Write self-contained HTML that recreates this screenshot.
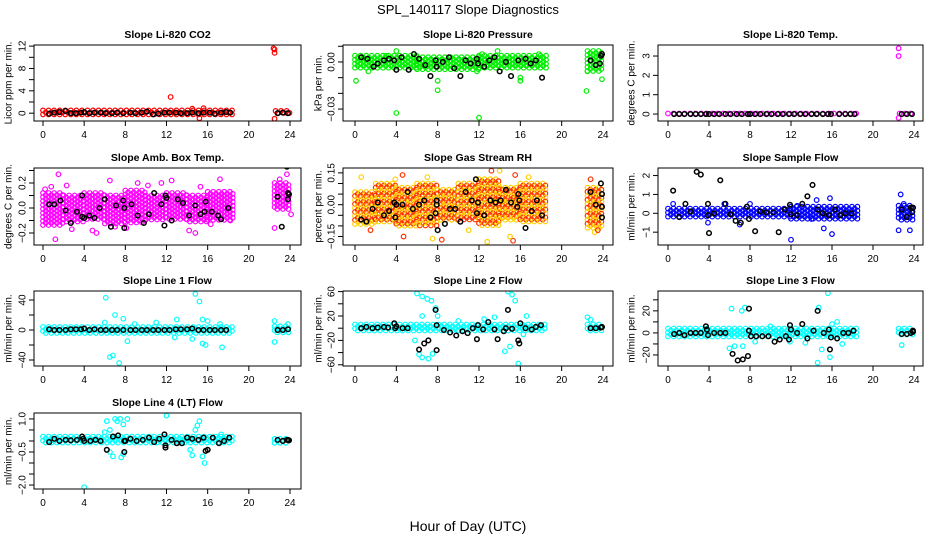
<!DOCTYPE html>
<html><head><meta charset="utf-8"><title>SPL_140117 Slope Diagnostics</title>
<style>body{margin:0;background:#fff}svg{display:block;font-family:"Liberation Sans",Arial,sans-serif}</style>
</head><body>
<svg id="chart" width="936" height="540" viewBox="0 0 936 540" xmlns="http://www.w3.org/2000/svg">
<rect width="936" height="540" fill="#fff"/>
<text x="468" y="14" text-anchor="middle" font-size="13">SPL_140117  Slope Diagnostics</text>
<text x="468" y="531" text-anchor="middle" font-size="14">Hour of Day (UTC)</text>
</svg>
<script>
// ---- data: CO2 ----
const co2BandX0=[0,22.6], co2BandX1=[18.5,24], co2BandLo=[-0.4,-0.3], co2BandHi=[0.5,0.4];
const co2OutX=[22.4,22.5,22.5,12.4,15.2,22.5,15.6,14.5];
const co2OutY=[11.6,11.4,10.8,2.9,-0.9,-1.0,0.9,0.8];
const co2BlkX=[0.6,1.1,1.6,2.2,2.7,3.2,3.7,4.0,4.5,5.0,5.6,6.1,6.7,7.2,7.8,8.5,9.0,9.6,10.1,10.7,11.2,11.8,12.3,12.9,13.4,14.0,14.5,15.1,15.6,16.2,16.7,17.3,17.8,18.2,22.8,23.3,23.8];
const co2BlkY=[-0.1,0.1,0.2,0.4,0,0,0.1,0.2,0,0.1,0.1,0,0,0.1,0,0.1,0,0.1,0.3,-0.2,-0.1,0.1,0.1,0.1,0,0,0.1,0,0.1,0.1,-0.1,0.1,0.2,0.1,0,0.1,0];
// ---- data: Pressure ----
const prsBandX0=[0,6,12,22.5], prsBandX1=[6,12,18.5,24], prsBandLo=[-0.004,-0.005,-0.004,-0.006], prsBandHi=[0.004,0.003,0.004,0.007];
const prsOutX=[0.1,1.3,4.0,4.0,8.0,8.0,12.0,11.8,13.8,16.0,16.0,22.4,22.5,23.9,12.3,3.0,17.8];
const prsOutY=[-0.012,-0.006,-0.0325,0.007,-0.012,-0.018,-0.0355,-0.006,0.007,-0.01,-0.012,-0.0185,-0.006,-0.011,0.005,0.004,0.005];
const prsBlkX=[0.6,1.2,1.8,2.2,2.8,3.3,3.8,4.0,4.5,5.2,5.7,6.2,6.8,7.3,7.8,7.9,8.5,9.1,9.6,10.2,10.7,11.2,11.8,11.9,12.5,13.0,13.5,14.0,14.6,15.1,15.8,16.5,17.0,17.5,18.1,22.8,23.3,23.7,23.9,23.8];
const prsBlkY=[0.003,0.002,-0.003,-0.001,0.001,0.002,0.001,-0.005,0.003,-0.005,0.005,0.002,-0.002,-0.009,0.001,-0.003,0,0.003,-0.004,-0.009,0.001,-0.001,0.002,-0.001,-0.003,0.001,0.003,-0.006,0,-0.009,0.001,0.002,-0.001,0.001,-0.010,0.001,-0.002,-0.001,0.005,0.004];
// ---- data: Li-820 Temp ----
const tmpBandX0=[0,22.6], tmpBandX1=[18.5,24], tmpBandLo=[-0.03,-0.03], tmpBandHi=[0.03,0.03];
const tmpOutX=[22.5,22.5,22.5];
const tmpOutY=[3.4,3.0,-0.2];
const tmpBlkX=[0.6,1.1,1.6,2.2,2.7,3.2,3.7,4.0,4.5,5.0,5.6,6.1,6.7,7.2,7.8,8.0,8.5,9.0,9.6,10.1,10.7,11.2,11.8,12.3,12.9,13.4,14.0,14.5,15.1,15.6,15.9,16.7,17.3,17.8,18.2,22.8,23.3,23.8];
const tmpBlkY=[0,0,0,0,0,0,0,0,0,0,0,0,0,0,0,0,0,0,0,0,0,0,0,0,0,0,0,0,0,0,0,0,0,0,0,0,0,0];
// ---- data: Amb Box Temp ----
const ambBandX0=[0,2,4,6,8,10,12,14,16,22.5], ambBandX1=[2,4,6,8,10,12,14,16,18.5,24];
const ambBandLo=[-0.15,-0.12,-0.1,-0.13,-0.12,-0.1,-0.1,-0.12,-0.1,-0.02];
const ambBandHi=[0.12,0.1,0.12,0.1,0.14,0.1,0.12,0.1,0.13,0.2];
const ambOutX=[1.5,6.5,2.3,1.2,5.2,4.8,0.2,0.8,11.5,14.8,15.3,17.2,9.2,12.5,10.2,22.5,23.7,23.0,24.1,7.0,8.1,2.8,14.2,16.3,18.2];
const ambOutY=[0.27,0.22,0.18,-0.25,-0.2,-0.18,0.15,0.17,0.2,-0.2,0.17,0.23,0.2,0.22,0.18,-0.16,0.27,0.23,-0.05,-0.15,-0.16,-0.17,-0.18,-0.13,-0.1];
const ambBlkX=[0.6,1.1,1.7,2.2,2.7,3.3,3.8,3.8,4.0,4.5,5.0,5.5,6.0,6.6,7.1,7.8,7.9,7.9,8.6,9.2,9.8,10.3,10.8,11.5,11.8,11.9,12.0,12.5,13.1,13.6,14.2,14.8,15.3,15.7,15.8,16.4,17.0,17.3,18.0,22.8,23.2,23.7,23.8,23.8,23.9];
const ambBlkY=[0.03,0.03,0.06,-0.02,-0.12,-0.03,0.1,-0.07,-0.08,-0.06,-0.08,0,0.07,-0.15,0.02,0.06,-0.16,0,0.03,-0.06,-0.12,-0.05,0.12,0.03,-0.14,0.1,0.08,-0.1,0.07,0.04,-0.06,0.02,-0.05,-0.03,0.05,-0.03,-0.06,-0.09,0,0.09,-0.15,0.33,0.12,0.07,0.11];
// ---- data: Gas Stream RH ----
const rhBandX0=[0,2,4,6,8,10,12,14,16,22.5], rhBandX1=[2,4,6,8,10,12,14,16,18.5,24];
const rhBandLo=[-0.1,-0.08,-0.1,-0.1,-0.08,-0.07,-0.1,-0.08,-0.08,-0.11];
const rhBandHi=[0.06,0.1,0.08,0.1,0.07,0.1,0.12,0.08,0.1,0.08];
const rhOutX=[0.6,4.6,7.0,13.2,14.0,15.5,16.8,4.7,7.5,8.4,12.8,15.3,15.0,1.5,23.2,23.5,11.0,22.8,3.9];
const rhOutY=[0.13,0.14,0.13,0.16,0.16,0.14,0.13,-0.15,-0.16,-0.165,-0.175,-0.17,-0.15,-0.12,-0.13,-0.12,-0.12,0.12,0.12];
const rhBlkX=[0.6,1.1,1.7,2.2,2.8,3.3,3.8,3.9,4.0,4.6,5.1,5.6,6.2,6.7,7.3,7.8,7.9,7.9,8.0,8.7,9.2,9.7,10.2,10.7,11.3,11.7,11.8,11.9,12.5,13.1,13.6,14.1,14.6,15.1,15.7,15.8,15.9,16.5,17.1,17.6,18.1,22.8,23.3,23.8,23.9,23.9,23.9];
const rhBlkY=[-0.07,-0.08,-0.02,0.01,-0.05,-0.03,0.01,-0.06,0,0,0.06,-0.02,0,0.02,-0.06,-0.04,0.02,0,-0.12,-0.09,-0.02,-0.02,-0.08,0.06,0.02,0.12,-0.04,0.01,-0.05,0.02,0.01,0.02,0.07,0.01,-0.01,0.05,0.02,-0.11,-0.03,0.02,-0.05,0.06,0,0.1,0.05,-0.01,-0.06];
// ---- data: Sample Flow ----
const sfBandX0=[0,12,22.5], sfBandX1=[12,18.5,24], sfBandLo=[-0.25,-0.35,-0.4], sfBandHi=[0.25,0.35,0.4];
const sfOutX=[0.5,3.9,5.5,7.0,12.0,14.5,15.2,15.8,16.0,22.5,22.7,23.6,23.0,8.0,12.6,14.0];
const sfOutY=[0.5,-0.5,0.5,-0.6,-1.4,0.7,-0.8,0.8,-1.1,-0.9,1.0,-0.9,0.5,0.5,0.4,-0.3];
const sfBlkX=[0.5,1.1,1.7,2.2,2.8,3.2,3.9,3.9,4.0,4.5,5.1,5.6,6.1,6.6,7.1,7.7,7.9,8.5,9.0,9.6,10.3,10.8,11.4,11.9,12.0,12.6,13.1,13.6,14.1,14.6,15.1,15.7,16.3,16.8,17.3,17.9,22.8,23.3,23.7,23.8,23.9];
const sfBlkY=[1.2,-0.2,0.5,0.1,2.2,2.05,0.5,-0.1,-1.05,0,1.75,0.5,-0.05,-0.4,-0.5,0.35,-0.3,-0.95,0.1,0.05,0.05,-1.0,0.2,0.45,-0.05,-0.1,0.5,0.9,1.5,0.2,0,-0.1,0.2,-0.1,0,0,0.2,-0.2,0.3,0.05,0.3];
// ---- data: Line 1 Flow ----
const l1BandX0=[0,22.5], l1BandX1=[18.5,24], l1BandLo=[-4,-4], l1BandHi=[4,5];
const l1OutX=[6.1,6.0,6.5,6.8,7.4,7.0,7.8,8.2,8.9,11.0,12.8,13.0,14.8,15.2,15.5,16.0,15.8,15.5,17.2,17.4,14.5,22.5,22.5,23.8];
const l1OutY=[43,10,-36,-34,-44,20,15,-15,8,10,-10,14,48,38,14,12,-20,-18,8,-23,-12,-16,12,8];
const l1BlkX=[0.6,1.1,1.6,2.2,2.7,3.2,3.7,4.0,4.5,5.0,5.6,6.1,6.7,7.2,7.8,8.5,9.0,9.6,10.1,10.7,11.2,11.8,12.3,12.9,13.4,14.0,14.5,15.1,15.6,16.2,16.7,17.3,17.8,22.8,23.3,23.8];
const l1BlkY=[1,0,0,0,1,1,1,2,0,1,0,0,0,0,0,0,0,0,0,0,0,0,0,1,1,1,2,0,0,0,0,0,0,0,0,1];
// ---- data: Line 2 Flow ----
const l2BandX0=[0,22.5], l2BandX1=[18.5,24], l2BandLo=[-6,-4], l2BandHi=[6,6];
const l2OutX=[6.0,6.5,7.0,7.4,6.2,6.5,7.1,7.5,7.8,8.0,6.5,5.8,14.8,15.2,15.5,14.5,15.0,15.8,16.3,16.6,13.5,12.5,22.5,22.8,10.0];
const l2OutY=[57,52,48,45,-43,-48,-50,-42,33,20,20,-20,60,55,45,-38,-30,-58,-10,20,18,15,18,14,12];
const l2BlkX=[0.6,1.1,1.7,2.2,2.8,3.2,3.8,3.9,4.0,4.6,5.1,6.2,6.7,7.1,7.8,7.9,7.9,8.6,9.2,9.8,10.4,10.9,11.4,11.8,11.9,12.4,12.9,13.5,13.8,14.4,14.6,14.8,15.2,15.8,15.9,16.0,16.5,17.1,17.5,18.0,22.8,23.3,23.8,23.9];
const l2BlkY=[0,2,0,1,2,1,8,0,3,0,0,-35,-25,-20,30,-36,5,-3,-7,-12,-5,-8,0,-18,5,-2,10,-2,-18,-5,0,30,-1,-20,-25,8,0,-2,2,5,0,0,1,2];
// ---- data: Line 3 Flow ----
const l3BandX0=[0,22.5], l3BandX1=[18.5,24], l3BandLo=[-4,-3], l3BandHi=[4,4];
const l3OutX=[6.2,7.2,7.5,6.0,6.5,7.3,14.6,14.7,15.6,15.0,15.8,16.0,16.5,17.0,22.8,8.5,10.0,13.4,11.9];
const l3OutY=[22,20,23,-14,-12,-12,-27,23,36,-15,-22,8,10,-10,-11,-8,6,-9,-8];
const l3BlkX=[0.6,1.1,1.6,2.2,2.7,3.2,3.7,3.8,3.9,4.5,5.1,5.6,6.3,6.8,7.3,7.9,7.8,7.9,8.1,8.6,9.2,9.8,10.4,10.9,11.5,11.8,11.9,12.0,12.6,13.1,13.6,14.2,14.6,15.2,15.7,15.8,15.9,16.5,17.1,17.6,18.1,22.8,23.3,23.7,23.9,23.9];
const l3BlkY=[-1,0,-2,0,0,0,6,3,-2,0,0,0,-19,-25,-24,22,-21,2,-3,-3,-3,-3,-8,-6,-3,-6,7,3,0,8,-5,2,20,0,3,-15,-4,-5,0,0,2,-1,-1,0,1,2];
// ---- data: Line 4 (LT) Flow ----
const l4BandX0=[0,22.5], l4BandX1=[18.5,24], l4BandLo=[-0.15,-0.1], l4BandHi=[0.2,0.1];
const l4OutX=[4.0,6.2,6.5,7.0,7.2,7.5,8.2,7.8,6.5,6.8,7.6,7.8,12.0,14.5,14.8,15.0,15.2,15.5,15.7,14.3,17.3,6.0];
const l4OutY=[-2.1,0.9,0.5,1.0,0.9,1.0,1.0,0.75,-0.5,-0.7,-0.75,-0.6,1.15,-0.65,0.5,0.7,0.9,-0.7,-1.0,-0.4,0.3,0.4];
const l4BlkX=[0.6,1.1,1.6,2.2,2.7,3.3,3.8,3.9,4.0,4.6,5.1,5.6,6.2,6.8,7.3,7.9,7.9,8.0,8.5,9.1,9.7,10.3,10.8,11.3,11.8,11.9,11.9,12.5,13.0,13.5,14.0,14.5,15.1,15.6,15.8,16.0,16.5,17.1,17.6,18.1,22.8,23.3,23.7,23.8,23.9];
const l4BlkY=[-0.05,0.1,0,0.05,0.03,0.05,0.2,0.1,0,0,0.05,0,-0.4,0.2,0.25,-0.5,0,0,0.1,0,0.05,0.15,-0.05,0.1,0.3,-0.3,-0.2,0.05,-0.1,-0.1,0.15,0.1,0.05,0.15,-0.45,-0.4,0.15,-0.1,0,0.15,0.05,0,0.05,0.05,0.03];

const xTicks=[0,4,8,12,16,20,24];
const cols=[{l:34,r:301,x0:43,x24:290,yl:9},{l:343,r:613,x0:355,x24:603,yl:319},{l:658,r:923,x0:668,x24:914,yl:632}];
const rows=[{t:45,b:121},{t:168,b:245},{t:291,b:366},{t:413,b:489}];
const panels=[
 {id:'co2',title:'Slope Li-820 CO2',ylab:'Licor ppm per min.',c:0,r:0,ymin:-1.4,ymax:12.2,ticks:[0,2,4,6,8,10,12],labs:[0,4,8,12],fmt:v=>String(v),col:['#FF0000'],bx0:co2BandX0,bx1:co2BandX1,blo:co2BandLo,bhi:co2BandHi,ox:co2OutX,oy:co2OutY,kx:co2BlkX,ky:co2BlkY},
 {id:'pressure',title:'Slope Li-820 Pressure',ylab:'kPa per min.',c:1,r:0,ymin:-0.0376,ymax:0.0108,ticks:[0.01,0,-0.01,-0.02,-0.03],labs:[0,-0.03],fmt:v=>v.toFixed(2),col:['#00EE00'],bx0:prsBandX0,bx1:prsBandX1,blo:prsBandLo,bhi:prsBandHi,ox:prsOutX,oy:prsOutY,kx:prsBlkX,ky:prsBlkY},
 {id:'li820-temp',title:'Slope Li-820 Temp.',ylab:'degrees C per min.',c:2,r:0,ymin:-0.36,ymax:3.57,ticks:[0,1,2,3],labs:[0,1,2,3],fmt:v=>String(v),col:['#FF00FF'],bx0:tmpBandX0,bx1:tmpBandX1,blo:tmpBandLo,bhi:tmpBandHi,ox:tmpOutX,oy:tmpOutY,kx:tmpBlkX,ky:tmpBlkY},
 {id:'amb-box-temp',title:'Slope Amb. Box Temp.',ylab:'degrees C per min.',c:0,r:1,ymin:-0.296,ymax:0.32,ticks:[-0.2,-0.1,0,0.1,0.2,0.3],labs:[-0.2,0,0.2],fmt:v=>v.toFixed(1),col:['#FF00FF'],bx0:ambBandX0,bx1:ambBandX1,blo:ambBandLo,bhi:ambBandHi,ox:ambOutX,oy:ambOutY,kx:ambBlkX,ky:ambBlkY},
 {id:'gas-stream-rh',title:'Slope Gas Stream RH',ylab:'percent per min.',c:1,r:1,ymin:-0.19,ymax:0.173,ticks:[-0.15,-0.1,-0.05,0,0.05,0.1,0.15],labs:[-0.15,0,0.15],fmt:v=>v.toFixed(2),col:['#FFD000','#FF3000'],bx0:rhBandX0,bx1:rhBandX1,blo:rhBandLo,bhi:rhBandHi,ox:rhOutX,oy:rhOutY,kx:rhBlkX,ky:rhBlkY},
 {id:'sample-flow',title:'Slope Sample Flow',ylab:'ml/min per min.',c:2,r:1,ymin:-1.68,ymax:2.4,ticks:[-1,0,1,2],labs:[-1,0,1,2],fmt:v=>String(v),col:['#0000FF'],bx0:sfBandX0,bx1:sfBandX1,blo:sfBandLo,bhi:sfBandHi,ox:sfOutX,oy:sfOutY,kx:sfBlkX,ky:sfBlkY},
 {id:'line1-flow',title:'Slope Line 1 Flow',ylab:'ml/min per min.',c:0,r:2,ymin:-48,ymax:52,ticks:[-40,-20,0,20,40],labs:[-40,0,40],fmt:v=>String(v),col:['#00FFFF'],bx0:l1BandX0,bx1:l1BandX1,blo:l1BandLo,bhi:l1BandHi,ox:l1OutX,oy:l1OutY,kx:l1BlkX,ky:l1BlkY},
 {id:'line2-flow',title:'Slope Line 2 Flow',ylab:'ml/min per min.',c:1,r:2,ymin:-62,ymax:61,ticks:[-60,-40,-20,0,20,40,60],labs:[-60,-20,20,60],fmt:v=>String(v),col:['#00FFFF'],bx0:l2BandX0,bx1:l2BandX1,blo:l2BandLo,bhi:l2BandHi,ox:l2OutX,oy:l2OutY,kx:l2BlkX,ky:l2BlkY},
 {id:'line3-flow',title:'Slope Line 3 Flow',ylab:'ml/min per min.',c:2,r:2,ymin:-30,ymax:38,ticks:[-20,-10,0,10,20,30],labs:[-20,0,20],fmt:v=>String(v),col:['#00FFFF'],bx0:l3BandX0,bx1:l3BandX1,blo:l3BandLo,bhi:l3BandHi,ox:l3OutX,oy:l3OutY,kx:l3BlkX,ky:l3BlkY},
 {id:'line4-flow',title:'Slope Line 4 (LT) Flow',ylab:'ml/min per min.',c:0,r:3,ymin:-2.18,ymax:1.27,ticks:[-2,-1.5,-1,-0.5,0,0.5,1],labs:[-2,-0.5,1],fmt:v=>v.toFixed(1),col:['#00FFFF'],bx0:l4BandX0,bx1:l4BandX1,blo:l4BandLo,bhi:l4BandHi,ox:l4OutX,oy:l4OutY,kx:l4BlkX,ky:l4BlkY}
];
const NS='http://www.w3.org/2000/svg';
const svg=document.getElementById('chart');
function mk(tag,attrs,parent){const e=document.createElementNS(NS,tag);for(const k in attrs)e.setAttribute(k,attrs[k]);(parent||svg).appendChild(e);return e;}
function fmtNeg(s){return s.replace('-','\u2212');}
panels.forEach(p=>{
  const C=cols[p.c],R=rows[p.r];
  const g=mk('g',{});
  
  
  const xs=h=>C.x0+(C.x24-C.x0)*h/24;
  const ys=v=>R.b-(R.b-R.t)*(v-p.ymin)/(p.ymax-p.ymin);
  const t=mk('text',{x:(C.l+C.r)/2,y:R.t-7,'text-anchor':'middle','font-size':10.5,'font-weight':'bold'},g);
  t.textContent=p.title;
  
  
  const ym=(R.t+R.b)/2;
  const yl=mk('text',{x:C.yl,y:ym,'text-anchor':'middle','font-size':10,transform:`rotate(-90 ${C.yl} ${ym})`,'dominant-baseline':'central'},g);
  yl.textContent=p.ylab;
  
  
  const clipId='clip-'+p.id;
  const cp=mk('clipPath',{id:clipId},g);mk('rect',{x:C.l,y:R.t,width:C.r-C.l,height:R.b-R.t},cp);
  const pts=mk('g',{'clip-path':`url(#${clipId})`,fill:'none','stroke-width':1.2},g);
  
  
  for(let s=0;s<p.bx0.length;s++){
    const yTop=ys(p.bhi[s]),yBot=ys(p.blo[s]);
    let k=0;
    for(let h=p.bx0[s];h<p.bx1[s]+0.1;h+=0.27){
      const px=xs(h);
      let j=0;
      for(let py=yTop+((k%2)?2:0);py<=yBot;py+=4){
        const c=mk('circle',{cx:px.toFixed(1),cy:py.toFixed(1),r:2.3,stroke:p.col[(k+j)%p.col.length]},pts);
        
        
        j++;
      }
      k++;
    }
  }
  p.ox.forEach((h,i)=>{
    const c=mk('circle',{cx:xs(h),cy:ys(p.oy[i]),r:2.3,stroke:p.col[i%p.col.length]},pts);
    
    
  });
  p.kx.forEach((h,i)=>{
    const c=mk('circle',{cx:xs(h),cy:ys(p.ky[i]),r:2.3,stroke:'#000','stroke-width':1.5},pts);
    
    
  });
  const b=mk('rect',{x:C.l,y:R.t,width:C.r-C.l,height:R.b-R.t,fill:'none',stroke:'#000','stroke-width':1},g);
  
  
  const xa=mk('g',{},g);
  
  
  xTicks.forEach(v=>{
    const x=xs(v);
    mk('line',{x1:x,x2:x,y1:R.b,y2:R.b+5,stroke:'#000'},xa);
    const tl=mk('text',{x:x,y:R.b+17,'text-anchor':'middle','font-size':10},xa);
    tl.textContent=String(v);
    
    
  });
  const ya=mk('g',{},g);
  
  
  p.ticks.forEach(v=>{
    const y=ys(v);
    mk('line',{x1:C.l-5,x2:C.l,y1:y,y2:y,stroke:'#000'},ya);
  });
  p.labs.forEach(v=>{
    const y=ys(v),x=C.l-11;
    const tl=mk('text',{x:x,y:y,'text-anchor':'middle','font-size':10,'dominant-baseline':'central',transform:`rotate(-90 ${x} ${y})`},ya);
    tl.textContent=fmtNeg(p.fmt(v));
    
    
  });
});
</script>
</body></html>
